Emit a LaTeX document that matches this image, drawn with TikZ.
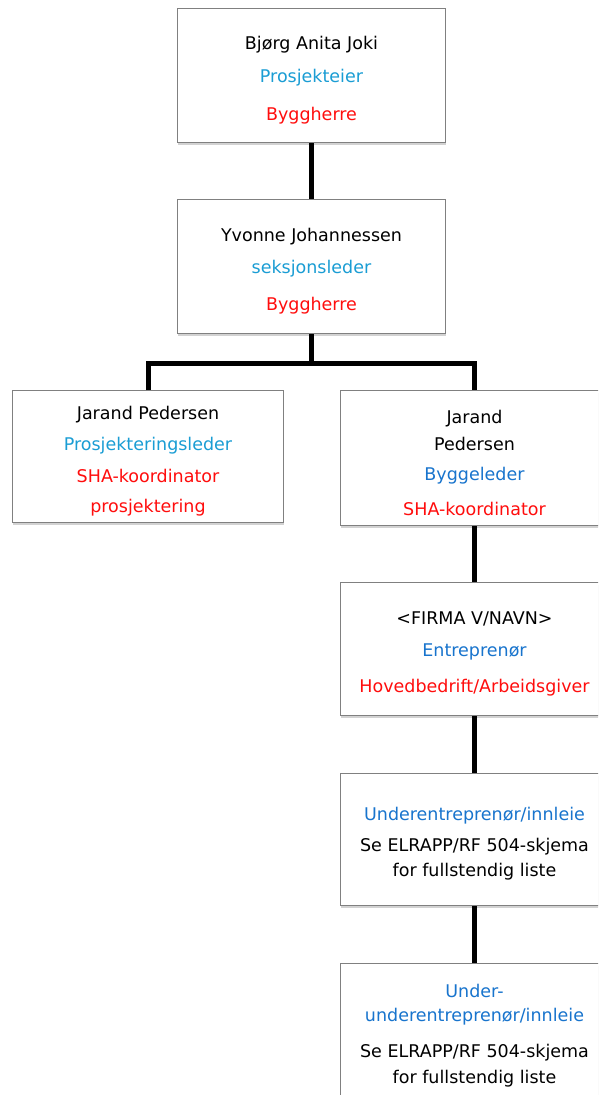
\documentclass[tikz,border=0pt]{standalone}
\usepackage{fontspec}
\setmainfont{DejaVu Sans}
\usetikzlibrary{shadows}
\definecolor{lblue}{HTML}{1A9DD4}
\definecolor{dblue}{HTML}{1874CD}
\definecolor{hred}{HTML}{FF0D0D}

\begin{document}
\begin{tikzpicture}[x=1pt, y=-1pt,
    box/.style={draw=black!50, line width=1pt, fill=white, anchor=north west,
      minimum width=268pt, minimum height=134pt, inner sep=0pt,
      drop shadow={opacity=0.35, shadow xshift=0pt, shadow yshift=-2.5pt}},
    txt/.style={align=center, inner sep=0pt, font=\fontsize{17.5}{30}\selectfont},
    link/.style={line width=5pt, black}]
      \clip (0,0) rectangle (598,1095);
      \fill[white] (0,0) rectangle (598,1095);

      % boxes
      \node[box] (eier) at (177,8) {} ;
      \node[box] (seksjon) at (177,199) {} ;
      \node[box, minimum width=271pt, minimum height=132pt] (prosj) at (12,390) {} ;
      \node[box, minimum height=135pt] (bygg) at (340,390) {} ;
      \node[box, minimum height=133pt] (entr) at (340,582) {} ;
      \node[box, minimum height=132pt] (under) at (340,773) {} ;
      \node[box, minimum height=136pt] (uunder) at (340,963) {} ;

      % texts
      \node[txt] (eier-t) at ([yshift=-4.5pt]eier.center) {Bjørg Anita Joki\\[3pt]
        \textcolor{lblue}{Prosjekteier}\\[8pt]\textcolor{hred}{Byggherre}} ;
      \node[txt] (seksjon-t) at ([yshift=-4.5pt]seksjon.center) {Yvonne Johannessen\\[2pt]
        \textcolor{lblue}{seksjonsleder}\\[7pt]\textcolor{hred}{Byggherre}} ;
      \node[txt] (prosj-t) at ([yshift=-4.5pt]prosj.center)
        {Jarand Pedersen\\[1pt]\textcolor{lblue}{Prosjekteringsleder}\\[2pt]
        \textcolor{hred}{SHA-koordinator}\\\textcolor{hred}{prosjektering}} ;
      \node[txt] (bygg-t) at ([yshift=-4.5pt]bygg.center) {Jarand\\[-3pt]Pedersen\\
        \textcolor{dblue}{Byggeleder}\\[5pt]\textcolor{hred}{SHA-koordinator}} ;
      \node[txt] (entr-t) at ([yshift=-4.5pt]entr.center) {<FIRMA V/NAVN>\\[2pt]
        \textcolor{dblue}{Entreprenør}\\[6pt]\textcolor{hred}{Hovedbedrift/Arbeidsgiver}} ;
      \node[txt] (under-t) at ([yshift=-4.5pt]under.center)
        {\textcolor{dblue}{Underentreprenør/innleie}\\[1pt]Se ELRAPP/RF 504-skjema\\[-5pt]
        for fullstendig liste} ;
      \node[txt] (uunder-t) at ([yshift=-4.5pt]uunder.center)
        {\textcolor{dblue}{Under-}\\[-6pt]\textcolor{dblue}{underentreprenør/innleie}\\[6pt]
        Se ELRAPP/RF 504-skjema\\[-4pt]for fullstendig liste} ;

      % connectors
      \draw[link] (eier.south) -- (seksjon.north) ;
      \coordinate (fork) at ([yshift=-29pt]seksjon.south) ;
      \draw[link] (seksjon.south) -- (fork) ;
      \draw[link] (prosj.north) |- (fork) -| (bygg.north) ;
      \draw[link] (bygg.south) -- (entr.north) ;
      \draw[link] (entr.south) -- (under.north) ;
      \draw[link] (under.south) -- (uunder.north) ;

\end{tikzpicture}
\end{document}
